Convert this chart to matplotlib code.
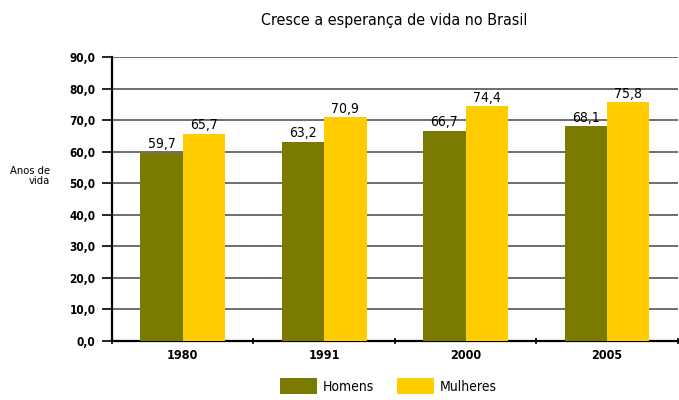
import matplotlib
matplotlib.use("Agg")
import numpy as np
import matplotlib.pyplot as plt
from matplotlib.patches import Patch

plt.rcParams['font.family'] = ['DejaVu Sans']
plt.rcParams['font.stretch'] = 'condensed'

anos = ['1980', '1991', '2000', '2005']
homens = [59.7, 63.2, 66.7, 68.1]
mulheres = [65.7, 70.9, 74.4, 75.8]
yticks = [0, 10, 20, 30, 40, 50, 60, 70, 80, 90]

cor_h = '#7a7a00'
cor_m = '#ffcc00'


def fmt(v):
    return ('%.1f' % v).replace('.', ',')


fig = plt.figure(figsize=(6.79, 4.0), dpi=100)
ax = fig.add_axes([0.165, 0.1475, 0.833, 0.71])

x = np.arange(len(anos)) + 0.5
w = 0.3
ax.bar(x - w / 2, homens, w, color=cor_h, zorder=3)
ax.bar(x + w / 2, mulheres, w, color=cor_m, zorder=3)

for xi, v in zip(x - w / 2, homens):
    ax.text(xi, v + 0.4, fmt(v), ha='center', va='bottom', fontsize=10, zorder=4)
for xi, v in zip(x + w / 2, mulheres):
    ax.text(xi, v + 0.4, fmt(v), ha='center', va='bottom', fontsize=10, zorder=4)

ax.set_xlim(0, len(anos))
ax.set_ylim(0, 90)
ax.set_yticks(yticks)
ax.set_yticklabels([fmt(t) for t in yticks], fontsize=8.5, fontweight='bold')
ax.yaxis.grid(True, color='#6e6e6e', linewidth=1.4, zorder=0)

# category labels sit between the boundary ticks
ax.set_xticks(np.arange(len(anos) + 1))
ax.set_xticklabels([])
ax.set_xticks(x, minor=True)
ax.set_xticklabels(anos, minor=True, fontsize=9, fontweight='bold')
ax.tick_params(axis='x', which='minor', length=0, pad=6)
ax.tick_params(axis='x', which='major', length=4, width=1.2, direction='inout')
ax.tick_params(axis='y', length=7, width=1.2, direction='out', pad=5)

for s in ['top', 'right']:
    ax.spines[s].set_visible(False)
ax.spines['left'].set_linewidth(1.6)
ax.spines['bottom'].set_linewidth(1.6)

fig.text(0.581, 0.948, 'Cresce a esperança de vida no Brasil', ha='center', va='center',
         fontsize=11.5)
fig.text(0.074, 0.56, 'Anos de\nvida', ha='right', va='center', fontsize=8,
         linespacing=1.1)

handles = [Patch(facecolor=cor_h, label='Homens'), Patch(facecolor=cor_m, label='Mulheres')]
fig.legend(handles=handles, loc='center', bbox_to_anchor=(0.572, 0.035), ncol=2,
           frameon=False, fontsize=10, handlelength=2.66, handleheight=1.37,
           columnspacing=1.65, handletextpad=0.45, borderpad=0.2)

fig.savefig('out.png', dpi=100)
